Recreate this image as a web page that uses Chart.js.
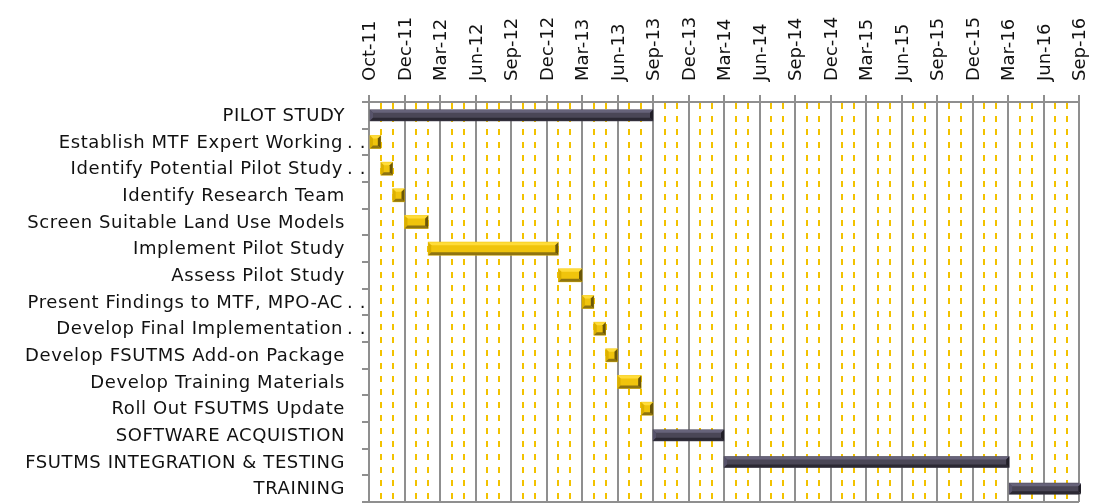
<!DOCTYPE html>
<html>
<head>
<meta charset="utf-8">
<script src="https://cdn.jsdelivr.net/npm/chart.js@4.4.1/dist/chart.umd.min.js"></script>
<style>
  html, body { margin: 0; padding: 0; background: #fff; }
  #wrap { width: 1093px; height: 504px; position: relative; }
</style>
</head>
<body>
<div id="wrap"><canvas id="gantt"></canvas></div>
<script>
// task names, top to bottom
const taskNames = [
  'PILOT STUDY',
  'Establish MTF Expert Working..',
  'Identify Potential Pilot Study..',
  'Identify Research Team',
  'Screen Suitable Land Use Models',
  'Implement Pilot Study',
  'Assess Pilot Study',
  'Present Findings to MTF, MPO-AC..',
  'Develop Final Implementation..',
  'Develop FSUTMS Add-on Package',
  'Develop Training Materials',
  'Roll Out FSUTMS Update',
  'SOFTWARE ACQUISTION',
  'FSUTMS INTEGRATION & TESTING',
  'TRAINING'
];

// spans in months counted from Oct-11 (one month = a third of a major step)
const phaseSpans = [
  [0, 24], null, null, null, null, null, null, null, null, null, null, null,
  [24, 30], [30, 54.1], [54.1, 60.2]
];
const taskSpans = [
  null, [0, 1], [1, 2], [2, 3], [3, 5], [5, 16], [16, 18], [18, 19],
  [19, 20], [20, 21], [21, 23], [23, 24], null, null, null
];

// top axis labels, one per major step
const tickLabels = [
  'Oct-11', 'Dec-11', 'Mar-12', 'Jun-12', 'Sep-12', 'Dec-12', 'Mar-13',
  'Jun-13', 'Sep-13', 'Dec-13', 'Mar-14', 'Jun-14', 'Sep-14', 'Dec-14',
  'Mar-15', 'Jun-15', 'Sep-15', 'Dec-15', 'Mar-16', 'Jun-16', 'Sep-16'
];

const FONT = '"DejaVu Sans", sans-serif';
const FONT_SIZE = 18;
const GRAY = '#8f8f8f';
const GOLD = '#f2c200';

const bevels = {
  phase: { face: '#4a4656', top: '#67637a', left: '#57536a', bottom: '#2b2833', right: '#201e27' },
  task:  { face: '#f0c40c', top: '#ffdc3a', left: '#dcb000', bottom: '#8e7410', right: '#6a5608' }
};

function isMajor(ctx) {
  return ctx.tick && Math.round(ctx.tick.value) % 3 === 0;
}

// draws the raised edges on every bar
const bevelPlugin = {
  id: 'bevel',
  afterDatasetsDraw(chart) {
    const c = chart.ctx;
    const area = chart.chartArea;
    c.save();
    c.beginPath();
    c.rect(area.left, area.top, area.right - area.left + 2, area.bottom - area.top);
    c.clip();
    chart.data.datasets.forEach((ds, di) => {
      const pal = bevels[ds.kind];
      chart.getDatasetMeta(di).data.forEach((bar, i) => {
        if (!ds.data[i]) return;
        const p = bar.getProps(['x', 'y', 'base', 'height'], true);
        const x0 = Math.min(p.x, p.base), x1 = Math.max(p.x, p.base);
        const y0 = p.y - p.height / 2, y1 = p.y + p.height / 2;
        const b = Math.min(3, (x1 - x0) / 2, (y1 - y0) / 2);
        const poly = (pts, col) => {
          c.fillStyle = col;
          c.beginPath();
          c.moveTo(pts[0][0], pts[0][1]);
          for (let k = 1; k < pts.length; k++) c.lineTo(pts[k][0], pts[k][1]);
          c.closePath();
          c.fill();
        };
        poly([[x0, y0], [x1, y0], [x1 - b, y0 + b], [x0 + b, y0 + b]], pal.top);
        poly([[x0, y0], [x0 + b, y0 + b], [x0 + b, y1 - b], [x0, y1]], pal.left);
        poly([[x0, y1], [x0 + b, y1 - b], [x1 - b, y1 - b], [x1, y1]], pal.bottom);
        poly([[x1, y0], [x1, y1], [x1 - b, y1 - b], [x1 - b, y0 + b]], pal.right);
      });
    });
    c.restore();
  }
};

// category names on the left, with the '..' hanging past the text edge
const labelPlugin = {
  id: 'taskLabels',
  afterDraw(chart) {
    const c = chart.ctx;
    const yScale = chart.scales.y;
    const right = chart.chartArea.left - 24;
    c.save();
    c.font = FONT_SIZE + 'px ' + FONT;
    c.letterSpacing = '0.6px';
    c.fillStyle = '#111';
    c.textBaseline = 'middle';
    taskNames.forEach((name, i) => {
      const y = yScale.getPixelForValue(i) + 1;
      if (name.endsWith('..')) {
        c.textAlign = 'right';
        c.fillText(name.slice(0, -2), right - 2, y);
        c.textAlign = 'left';
        c.fillText('. .', right + 2, y);
      } else {
        c.textAlign = 'right';
        c.fillText(name, right, y);
      }
    });
    c.letterSpacing = '0px';
    // bottom frame of the plot
    const a = chart.chartArea;
    c.strokeStyle = GRAY;
    c.lineWidth = 2;
    c.beginPath();
    c.moveTo(a.left, a.bottom);
    c.lineTo(a.right, a.bottom);
    c.stroke();
    c.restore();
  }
};

const ctx = document.getElementById('gantt').getContext('2d');
new Chart(ctx, {
  type: 'bar',
  data: {
    labels: taskNames,
    datasets: [
      {
        kind: 'phase',
        data: phaseSpans,
        backgroundColor: bevels.phase.face,
        borderWidth: 0,
        barThickness: 11,
        grouped: false
      },
      {
        kind: 'task',
        data: taskSpans,
        backgroundColor: bevels.task.face,
        borderWidth: 0,
        barThickness: 13,
        grouped: false
      }
    ]
  },
  options: {
    indexAxis: 'y',
    responsive: true,
    maintainAspectRatio: false,
    animation: false,
    layout: { padding: { left: 0, right: 11, top: 0, bottom: 2 } },
    plugins: {
      legend: { display: false },
      tooltip: { enabled: false }
    },
    scales: {
      x: {
        type: 'linear',
        position: 'top',
        min: 0,
        max: 60,
        afterFit(scale) { scale.height = 102; },
        ticks: {
          stepSize: 1,
          autoSkip: false,
          minRotation: 90,
          maxRotation: 90,
          padding: 14,
          labelOffset: 23,
          color: '#111',
          font: { family: FONT, size: FONT_SIZE },
          callback(v) {
            const n = Math.round(v);
            return n % 3 === 0 ? tickLabels[n / 3] : '';
          }
        },
        grid: {
          color: (c) => isMajor(c) ? GRAY : GOLD,
          lineWidth: 2,
          tickLength: 7,
          tickColor: (c) => isMajor(c) ? GRAY : 'rgba(0,0,0,0)'
        },
        border: {
          display: true,
          color: GRAY,
          width: 2,
          dash: (c) => (c.tick && !isMajor(c)) ? [6, 7] : []
        }
      },
      y: {
        type: 'category',
        offset: true,
        afterFit(scale) { scale.width = 369; },
        ticks: { display: false },
        grid: {
          offset: true,
          drawOnChartArea: false,
          drawTicks: true,
          tickLength: 7,
          color: GRAY,
          lineWidth: 2
        },
        border: { display: true, color: GRAY, width: 2 }
      }
    }
  },
  plugins: [bevelPlugin, labelPlugin]
});
</script>
</body>
</html>
